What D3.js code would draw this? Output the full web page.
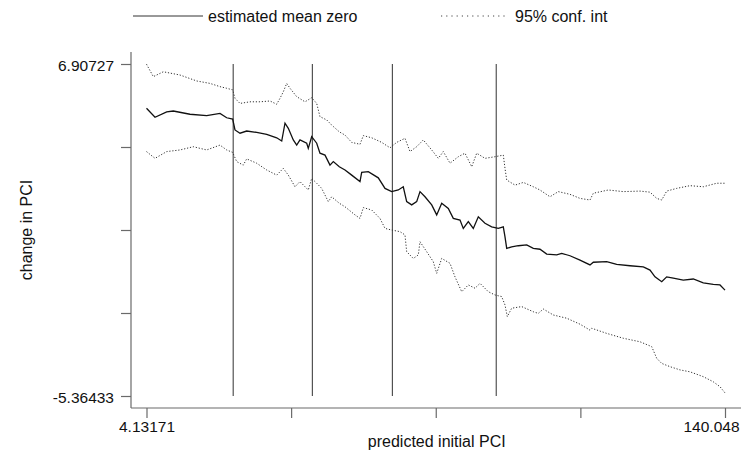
<!DOCTYPE html>
<html>
<head>
<meta charset="utf-8">
<script src="https://cdn.jsdelivr.net/npm/d3@7/dist/d3.min.js"></script>
<style>
  html, body { margin: 0; padding: 0; background: #fff; }
  svg { display: block; }
  text { font-family: "Liberation Sans", Arial, sans-serif; fill: #111; }
</style>
</head>
<body>
<svg id="chart" width="751" height="454"></svg>
<script>
// Predicted initial PCI (x) against change in PCI (y)
const meanX = [4.13171, 6.13, 8.88, 10.43, 14.35, 18.27, 21.40, 22.97, 24.38, 24.92, 26.10, 27.67, 30.02, 32.37, 34.72, 35.90, 36.67, 37.45, 38.62, 39.42, 40.19, 41.77, 42.14, 42.94, 44.12, 44.89, 46.07, 47.24, 48.02, 49.43,
  50.77, 52.34, 54.29, 54.69, 56.24, 58.59, 60.17, 61.74, 63.29, 64.46, 65.26, 66.44, 67.61, 68.39, 69.56, 71.14, 72.31, 73.49, 75.04, 76.21, 77.79, 78.56, 79.74, 80.91, 82.09, 83.66, 85.23, 86.78, 87.96, 88.36, 88.76, 89.93, 91.48, 93.46, 95.01,
  96.58, 98.16, 100.51, 101.68, 103.63, 105.98, 108.33, 109.11, 112.25, 114.60, 117.73, 120.85, 122.43, 123.60, 125.18, 126.35, 127.90, 130.25, 132.60, 134.95, 137.30, 138.87, 140.048];
const meanY = [5.27, 4.94, 5.14, 5.17, 5.05, 5.00, 5.08, 4.92, 4.87, 4.47, 4.35, 4.43, 4.38, 4.31, 4.18, 4.06, 4.72, 4.53, 4.10, 3.91, 4.10, 3.98, 3.79, 4.22, 3.98, 3.61, 3.54, 3.17, 3.30, 3.11,
  2.99, 2.80, 2.56, 2.90, 2.93, 2.70, 2.31, 2.19, 2.25, 2.37, 1.82, 1.70, 1.82, 2.19, 2.00, 1.70, 1.33, 1.76, 1.57, 1.20, 1.14, 0.83, 1.08, 0.83, 1.26, 1.02, 0.89, 0.83, 0.89, 0.52, 0.09, 0.15, 0.19, 0.22, 0.09,
  0.06, -0.12, -0.15, -0.09, -0.18, -0.34, -0.52, -0.42, -0.40, -0.50, -0.55, -0.59, -0.71, -0.96, -1.14, -0.96, -1.01, -1.08, -1.04, -1.18, -1.24, -1.26, -1.45];

const upperX = [4.13171, 5.73, 8.08, 12.00, 15.93, 19.05, 21.40, 22.97, 24.38, 24.92, 26.10, 28.45, 30.80, 33.15, 34.72, 35.50, 36.27, 37.07, 37.85, 39.42, 41.37, 42.94, 44.12, 44.89, 46.47, 47.64, 49.43,
  50.77, 52.34, 54.29, 55.07, 57.04, 59.39, 61.34, 62.91, 64.86, 66.04, 67.61, 69.16, 71.14, 72.69, 73.86, 75.44, 77.39, 78.96, 80.54, 81.71, 83.66, 86.01, 87.96, 88.36, 88.76, 90.71, 92.66, 95.01,
  96.58, 98.93, 100.88, 103.63, 105.98, 108.33, 109.11, 112.63, 116.15, 120.08, 122.43, 124.00, 125.18, 126.35, 128.70, 131.82, 134.95, 138.10, 140.048];
const upperY = [6.90, 6.44, 6.62, 6.50, 6.28, 6.19, 6.07, 6.01, 5.95, 5.64, 5.45, 5.51, 5.51, 5.54, 5.42, 5.64, 5.88, 6.19, 6.01, 5.70, 5.51, 5.66, 5.45, 4.96, 4.84, 4.65, 4.40,
  4.28, 4.01, 3.94, 4.26, 4.18, 4.01, 3.81, 4.01, 4.16, 3.67, 3.85, 4.10, 3.73, 3.42, 3.67, 3.24, 3.48, 3.61, 3.11, 3.61, 3.42, 3.48, 3.54, 3.05, 2.62, 2.43, 2.53, 2.37,
  2.25, 2.00, 2.19, 2.09, 1.94, 1.88, 2.13, 2.25, 2.19, 2.21, 2.17, 1.94, 1.88, 2.21, 2.31, 2.41, 2.37, 2.50, 2.50];

const lowerX = [4.13171, 6.13, 8.88, 12.00, 15.13, 18.27, 21.40, 22.97, 24.38, 25.32, 26.87, 27.67, 30.02, 32.37, 34.72, 36.27, 37.45, 39.02, 40.19, 42.14, 42.94, 44.12, 45.29, 46.84, 47.64, 49.43,
  50.77, 53.12, 54.29, 55.07, 57.04, 58.99, 60.17, 61.74, 63.69, 64.86, 65.26, 66.81, 67.99, 68.39, 69.96, 71.51, 72.31, 73.49, 75.44, 76.61, 78.19, 79.74, 81.31, 82.49, 84.44, 86.01, 87.58, 88.36, 88.90, 89.93, 92.28, 95.01,
  96.18, 97.36, 99.71, 102.86, 105.98, 108.33, 108.73, 112.25, 116.15, 120.08, 122.83, 124.00, 125.18, 127.13, 129.48, 131.82, 134.95, 137.30, 138.87, 140.048];
const lowerY = [3.67, 3.42, 3.67, 3.73, 3.85, 3.73, 3.91, 3.73, 3.64, 3.30, 3.17, 3.40, 3.24, 2.99, 2.80, 3.05, 2.80, 2.37, 2.56, 2.25, 2.68, 2.50, 2.31, 1.82, 2.00, 1.76,
  1.63, 1.33, 1.20, 1.60, 1.51, 1.20, 0.83, 0.77, 0.71, 0.59, -0.03, -0.28, -0.15, 0.34, -0.03, -0.40, -0.83, -0.28, -0.46, -0.96, -1.51, -1.26, -1.38, -1.20, -1.51, -1.63, -1.69, -2.00, -2.43, -2.12, -2.06, -2.25,
  -2.31, -2.15, -2.37, -2.49, -2.71, -2.93, -2.86, -3.05, -3.23, -3.36, -3.54, -3.97, -4.16, -4.28, -4.40, -4.47, -4.65, -4.84, -5.02, -5.25];

// Group cut points marked with vertical lines
const cutPoints = [24.5, 43.1, 61.9, 86.3];

// Axis extremes and tick labels
const xMin = 4.13171, xMax = 140.048;
const yMin = -5.36433, yMax = 6.90727;
const xTickValues = [4.13171, 38.11078, 72.08985, 106.06893, 140.048];
const xTickLabels = ["4.13171", "", "", "", "140.048"];
const yTickValues = [-5.36433, -2.29643, 0.77147, 3.83937, 6.90727];
const yTickLabels = ["-5.36433", "", "", "", "6.90727"];

const legendLabels = ["estimated mean zero", "95% conf. int"];

const svg = d3.select("#chart");
const x = d3.scaleLinear().domain([xMin, xMax]).range([146.5, 725]);
const y = d3.scaleLinear().domain([yMin, yMax]).range([396, 64]);

const axisColor = "#6a6a6a";
const pad = 15.5, padY = 12;
const axisLeftX = x.range()[0] - pad;
const axisBottomY = y.range()[0] + padY;
const fontStack = "'Liberation Sans', Arial, sans-serif";

// Axis lines
svg.append("line")
  .attr("x1", axisLeftX).attr("x2", axisLeftX)
  .attr("y1", y.range()[1] - padY).attr("y2", axisBottomY)
  .attr("stroke", axisColor).attr("stroke-width", 1.2);
svg.append("line")
  .attr("x1", axisLeftX).attr("x2", x.range()[1] + 16)
  .attr("y1", axisBottomY).attr("y2", axisBottomY)
  .attr("stroke", axisColor).attr("stroke-width", 1.2);

// Y axis ticks and labels
const yAxis = d3.axisLeft(y).tickValues(yTickValues)
  .tickFormat((d, i) => yTickLabels[i]).tickSize(10).tickPadding(7);
const gy = svg.append("g").attr("transform", `translate(${axisLeftX},0)`).call(yAxis);
gy.select(".domain").remove();
gy.selectAll(".tick line").attr("stroke", axisColor).attr("stroke-width", 1.2);
gy.selectAll(".tick text").attr("font-size", 15.5).attr("fill", "#111")
  .attr("font-family", fontStack).attr("dy", "0.45em");

// X axis ticks and labels; the last label is kept inside the frame
const xAxis = d3.axisBottom(x).tickValues(xTickValues)
  .tickFormat((d, i) => xTickLabels[i]).tickSize(10).tickPadding(3);
const gx = svg.append("g").attr("transform", `translate(0,${axisBottomY})`).call(xAxis);
gx.select(".domain").remove();
gx.selectAll(".tick line").attr("stroke", axisColor).attr("stroke-width", 1.2);
gx.selectAll(".tick text").attr("font-size", 15.5).attr("fill", "#111")
  .attr("font-family", fontStack)
  .attr("text-anchor", (d, i) => i === xTickValues.length - 1 ? "end" : "middle")
  .attr("x", (d, i) => i === xTickValues.length - 1 ? 14 : 0);

// Axis titles
svg.append("text")
  .attr("x", (x.range()[0] + x.range()[1]) / 2 + 1).attr("y", 447)
  .attr("text-anchor", "middle").attr("font-size", 16)
  .text("predicted initial PCI");
svg.append("text")
  .attr("transform", `translate(32,${(y.range()[0] + y.range()[1]) / 2}) rotate(-90)`)
  .attr("text-anchor", "middle").attr("font-size", 16)
  .text("change in PCI");

// Vertical cut-point lines spanning the y range
svg.append("g").selectAll("line").data(cutPoints).join("line")
  .attr("x1", d => x(d)).attr("x2", d => x(d))
  .attr("y1", y(yMin)).attr("y2", y(yMax))
  .attr("stroke", "#444").attr("stroke-width", 1.1);

// Series lines
const line = d3.line().x(d => x(d[0])).y(d => y(d[1]));
const zipSeries = (xs, ys) => xs.map((v, i) => [v, ys[i]]);

svg.append("path").datum(zipSeries(upperX, upperY))
  .attr("d", line).attr("fill", "none")
  .attr("stroke", "#333").attr("stroke-width", 1).attr("stroke-dasharray", "1.2,1.8");
svg.append("path").datum(zipSeries(lowerX, lowerY))
  .attr("d", line).attr("fill", "none")
  .attr("stroke", "#333").attr("stroke-width", 1).attr("stroke-dasharray", "1.2,1.8");
svg.append("path").datum(zipSeries(meanX, meanY))
  .attr("d", line).attr("fill", "none")
  .attr("stroke", "#111").attr("stroke-width", 1.3);

// Legend
const legend = svg.append("g");
legend.append("line").attr("x1", 133).attr("x2", 203).attr("y1", 16).attr("y2", 16)
  .attr("stroke", "#333").attr("stroke-width", 1);
legend.append("text").attr("x", 208).attr("y", 21.5).attr("font-size", 16).text(legendLabels[0]);
legend.append("line").attr("x1", 441).attr("x2", 507).attr("y1", 16).attr("y2", 16)
  .attr("stroke", "#444").attr("stroke-width", 1).attr("stroke-dasharray", "1.2,4");
legend.append("text").attr("x", 515).attr("y", 21.5).attr("font-size", 16).text(legendLabels[1]);
</script>
</body>
</html>
